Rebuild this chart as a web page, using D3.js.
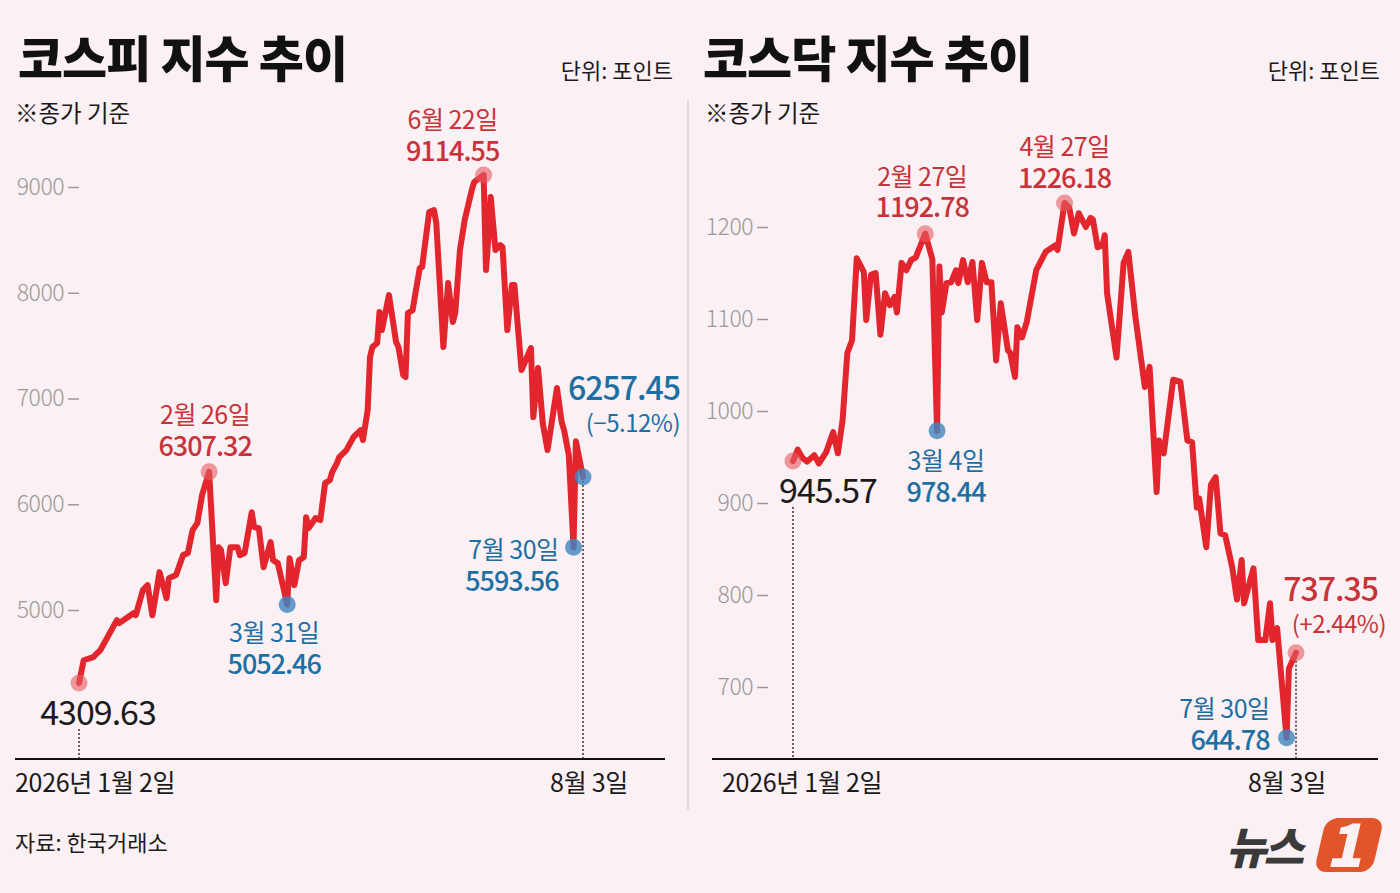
<!DOCTYPE html>
<html>
<head>
<meta charset="utf-8">
<script src="https://cdn.jsdelivr.net/npm/d3@7"></script>
<style>
  body { margin: 0; background: #fbf0f3; }
  svg { display: block; font-family: "Noto Sans CJK KR", "Noto Sans", sans-serif; }
</style>
</head>
<body>
<script>
const width = 1400;
const height = 893;

// 코스피 종가 (2026)
const kospiDates = [
  "01-02", "01-04", "01-08", "01-11", "01-18", "01-19", "01-25", "01-26", "01-29", "01-31",
  "02-02", "02-04", "02-05", "02-08", "02-09", "02-12", "02-15", "02-17", "02-19", "02-21",
  "02-23", "02-26", "03-01", "03-02", "03-03", "03-05", "03-07", "03-10", "03-11", "03-13",
  "03-16", "03-17", "03-19", "03-21", "03-24", "03-25", "03-27", "03-31", "04-01", "04-03",
  "04-05", "04-07", "04-08", "04-09", "04-12", "04-14", "04-16", "04-18", "04-19", "04-21",
  "04-22", "04-25", "04-28", "05-01", "05-02", "05-04", "05-05", "05-06", "05-08", "05-09",
  "05-10", "05-13", "05-16", "05-17", "05-19", "05-20", "05-21", "05-23", "05-26", "05-27",
  "05-30", "06-01", "06-02", "06-05", "06-07", "06-09", "06-10", "06-12", "06-14", "06-17",
  "06-18", "06-22", "06-23", "06-24", "06-25", "06-27", "06-29", "06-30", "07-02", "07-04",
  "07-05", "07-08", "07-12", "07-13", "07-15", "07-17", "07-19", "07-23", "07-25", "07-26",
  "07-28", "07-30", "07-31", "08-03"
];
const kospiValues = [
  4309.63, 4525, 4554, 4620, 4904, 4876, 4970, 4951, 5188, 5235,
  4951, 5216, 5358, 5112, 5301, 5330, 5519, 5538, 5755, 5821,
  6086, 6307.32, 5093, 5594, 5566, 5254, 5594, 5594, 5519, 5538,
  5925, 5784, 5774, 5405, 5642, 5471, 5443, 5052.46, 5490, 5235,
  5471, 5500, 5878, 5774, 5869, 5850, 6200, 6228, 6304, 6389,
  6446, 6512, 6635, 6701, 6607, 6890, 7392, 7486, 7524, 7818,
  7647, 7978, 7534, 7486, 7222, 7203, 7808, 7836, 8234, 8243,
  8764, 8782, 8659, 7486, 8092, 7723, 7808, 8404, 8688, 8972,
  9047, 9114.55, 8215, 8518, 8905, 8404, 8451, 8432, 7647, 8073,
  8073, 7269, 7477, 6824, 7288, 6767, 6512, 7099, 6777, 6701,
  6465, 5593.56, 6595, 6257.45
];
const kospiTicks = [5000, 6000, 7000, 8000, 9000];
const kospiMarks = [
  { date: "01-02", tone: "start", label: "" },
  { date: "02-26", tone: "high", label: "2월 26일" },
  { date: "03-31", tone: "low", label: "3월 31일" },
  { date: "06-22", tone: "high", label: "6월 22일" },
  { date: "07-30", tone: "low", label: "7월 30일" },
  { date: "08-03", tone: "low", label: "", change: "(−5.12%)" }
];

// 코스닥 종가 (2026)
const kosdaqDates = [
  "01-02", "01-04", "01-06", "01-08", "01-11", "01-13", "01-16", "01-19", "01-21", "01-23",
  "01-25", "01-27", "01-29", "02-01", "02-02", "02-04", "02-06", "02-08", "02-10", "02-12",
  "02-14", "02-15", "02-17", "02-19", "02-21", "02-23", "02-25", "02-27", "03-02", "03-04",
  "03-05", "03-06", "03-08", "03-10", "03-12", "03-13", "03-15", "03-17", "03-19", "03-21",
  "03-23", "03-25", "03-27", "03-29", "03-31", "04-03", "04-04", "04-06", "04-07", "04-09",
  "04-11", "04-15", "04-19", "04-23", "04-24", "04-27", "04-29", "05-01", "05-03", "05-06",
  "05-08", "05-09", "05-11", "05-13", "05-14", "05-15", "05-19", "05-22", "05-24", "05-27",
  "05-31", "06-02", "06-05", "06-06", "06-08", "06-12", "06-15", "06-18", "06-20", "06-22",
  "06-23", "06-26", "06-28", "06-30", "07-02", "07-04", "07-07", "07-09", "07-11", "07-12",
  "07-16", "07-18", "07-21", "07-23", "07-24", "07-26", "07-30", "07-31", "08-03"
];
const kosdaqValues = [
  945.57, 958, 949, 945, 952, 943, 955, 977, 954, 990,
  1063, 1077, 1166, 1151, 1099, 1148, 1150, 1083, 1128, 1115,
  1124, 1107, 1161, 1153, 1164, 1167, 1180, 1192.78, 1165, 978.44,
  1157, 1107, 1139, 1140, 1153, 1139, 1164, 1140, 1162, 1099,
  1161, 1140, 1140, 1055, 1117, 1066, 1063, 1037, 1091, 1080,
  1097, 1153, 1173, 1180, 1175, 1226.18, 1221, 1193, 1215, 1200,
  1210, 1208, 1178, 1180, 1191, 1128, 1058, 1161, 1173, 1102,
  1026, 1048, 912, 968, 954, 1034, 1032, 968, 966, 895,
  905, 852, 920, 928, 867, 865, 830, 795, 838, 791,
  829, 751, 751, 791, 751, 764, 644.78, 720, 737.35
];
const kosdaqTicks = [700, 800, 900, 1000, 1100, 1200];
const kosdaqMarks = [
  { date: "01-02", tone: "start", label: "" },
  { date: "02-27", tone: "high", label: "2월 27일" },
  { date: "03-04", tone: "low", label: "3월 4일" },
  { date: "04-27", tone: "high", label: "4월 27일" },
  { date: "07-30", tone: "low", label: "7월 30일" },
  { date: "08-03", tone: "high", label: "", change: "(+2.44%)" }
];

const parse = (d) => d3.timeParse("%Y-%m-%d")("2026-" + d);
const fmt = d3.format(".2f");

const RED = "#e3262d";
const textColor = { high: "#c8333a", low: "#1c6fa3", start: "#1a1a1a" };
const dotColor = { high: "#e55c63", low: "#3f86c0", start: "#e55c63" };

const svg = d3
  .select("body")
  .append("svg")
  .attr("width", width)
  .attr("height", height);

svg.append("rect").attr("width", width).attr("height", height).attr("fill", "#fbf0f3");

// 가운데 구분선
svg
  .append("line")
  .attr("x1", 688)
  .attr("x2", 688)
  .attr("y1", 100)
  .attr("y2", 810)
  .attr("stroke", "#e2d8db")
  .attr("stroke-width", 2);

function drawPanel(cfg) {
  const g = svg.append("g");
  const data = cfg.dates.map((d, i) => ({ date: parse(d), value: cfg.values[i] }));
  const lookup = new Map(cfg.dates.map((d, i) => [d, cfg.values[i]]));

  const x = d3
    .scaleTime()
    .domain([parse(cfg.dates[0]), parse(cfg.dates[cfg.dates.length - 1])])
    .range(cfg.xRange);
  const y = d3.scaleLinear().domain(cfg.yDomain).range(cfg.yRange);

  // 제목
  g.append("text")
    .attr("x", cfg.titleX)
    .attr("y", 77)
    .attr("font-size", 49)
    .attr("font-weight", 900)
    .attr("fill", "#111")
    .attr("letter-spacing", -1)
    .text(cfg.title);

  g.append("text")
    .attr("x", cfg.unitX)
    .attr("y", 79)
    .attr("text-anchor", "end")
    .attr("font-size", 22)
    .attr("fill", "#1a1a1a")
    .text("단위: 포인트");

  g.append("text")
    .attr("x", cfg.noteX)
    .attr("y", 122)
    .attr("font-size", 23.5)
    .attr("fill", "#1a1a1a")
    .text("※종가 기준");

  // y축
  const yAxis = d3
    .axisLeft(y)
    .tickValues(cfg.ticks)
    .tickSize(11)
    .tickPadding(4)
    .tickFormat(d3.format("d"));

  const ya = g
    .append("g")
    .attr("transform", `translate(${cfg.axisX},0)`)
    .call(yAxis);
  ya.select(".domain").remove();
  ya.selectAll(".tick line").attr("stroke", "#9a9a9a").attr("stroke-width", 1.5);
  ya.selectAll(".tick text")
    .attr("fill", "#9a9a9a")
    .attr("font-size", 23)
    .attr("font-weight", 300)
    .attr("letter-spacing", -0.5)
    .attr("font-family", "'Noto Sans CJK KR', sans-serif");

  // 바닥선
  g.append("line")
    .attr("x1", cfg.left)
    .attr("x2", cfg.right)
    .attr("y1", 759)
    .attr("y2", 759)
    .attr("stroke", "#111")
    .attr("stroke-width", 2);

  // x축 날짜
  const first = data[0];
  const last = data[data.length - 1];
  g.append("text")
    .attr("x", cfg.dateX)
    .attr("y", 792)
    .attr("font-size", 25)
    .attr("fill", "#1a1a1a")
    .attr("letter-spacing", -0.3)
    .text("2026년 1월 2일");
  g.append("text")
    .attr("x", x(last.date) + cfg.endShift)
    .attr("y", 792)
    .attr("text-anchor", "middle")
    .attr("font-size", 25)
    .attr("fill", "#1a1a1a")
    .attr("letter-spacing", -0.3)
    .text("8월 3일");

  // 점선
  const dotted = [
    [x(first.date), cfg.startLineTop],
    [x(last.date), y(last.value)],
  ];
  g.selectAll(".guide")
    .data(dotted)
    .enter()
    .append("line")
    .attr("x1", (d) => d[0])
    .attr("x2", (d) => d[0])
    .attr("y1", (d) => d[1])
    .attr("y2", 759)
    .attr("stroke", "#333")
    .attr("stroke-width", 1.5)
    .attr("stroke-dasharray", "2,2");

  // 지수 선
  const line = d3
    .line()
    .x((d) => x(d.date))
    .y((d) => y(d.value));

  g.append("path")
    .datum(data)
    .attr("d", line)
    .attr("fill", "none")
    .attr("stroke", RED)
    .attr("stroke-width", 6)
    .attr("stroke-linejoin", "round")
    .attr("stroke-linecap", "round");

  // 표시점
  const marks = cfg.marks.map((m) => ({
    ...m,
    value: lookup.get(m.date),
    px: x(parse(m.date)),
    py: y(lookup.get(m.date)),
  }));

  g.selectAll(".dot")
    .data(marks)
    .enter()
    .append("circle")
    .attr("cx", (d) => d.px)
    .attr("cy", (d) => d.py)
    .attr("r", 8.5)
    .attr("fill", (d) => dotColor[d.tone])
    .attr("opacity", (d) => (d.tone === "low" ? 0.8 : 0.6));

  // 라벨
  marks.forEach((m) => {
    const p = cfg.place[m.date];
    const t = g
      .append("text")
      .attr("text-anchor", p.anchor)
      .attr("fill", textColor[m.tone])
      .attr("letter-spacing", -1);

    if (m.tone === "start") {
      t.append("tspan")
        .attr("x", m.px + p.dx)
        .attr("y", m.py + p.dy[0])
        .attr("font-size", 34)
        .text(fmt(m.value));
    } else if (m.change) {
      t.append("tspan")
        .attr("x", m.px + p.dx)
        .attr("y", m.py + p.dy[0])
        .attr("font-size", 32)
        .attr("font-weight", 500)
        .text(fmt(m.value));
      t.append("tspan")
        .attr("x", m.px + p.dx + p.dx2)
        .attr("y", m.py + p.dy[1])
        .attr("font-size", 24)
        .attr("letter-spacing", -0.5)
        .text(m.change);
    } else {
      t.append("tspan")
        .attr("x", m.px + p.dx)
        .attr("y", m.py + p.dy[0])
        .attr("font-size", 25)
        .attr("letter-spacing", -0.5)
        .text(m.label);
      t.append("tspan")
        .attr("x", m.px + p.dx)
        .attr("y", m.py + p.dy[1])
        .attr("font-size", 27)
        .attr("font-weight", 500)
        .text(fmt(m.value));
    }
  });
}

drawPanel({
  title: "코스피 지수 추이",
  dates: kospiDates,
  values: kospiValues,
  ticks: kospiTicks,
  marks: kospiMarks,
  left: 15,
  right: 665,
  titleX: 18,
  unitX: 673,
  noteX: 15,
  dateX: 15,
  endShift: 6,
  axisX: 79,
  xRange: [79, 583],
  yDomain: [5000, 9000],
  yRange: [610, 187],
  startLineTop: 729,
  place: {
    "01-02": { dx: 19, dy: [42], anchor: "middle" },
    "02-26": { dx: -4, dy: [-48, -16], anchor: "middle" },
    "03-31": { dx: -13, dy: [38, 70], anchor: "middle" },
    "06-22": { dx: -31, dy: [-46, -14], anchor: "middle" },
    "07-30": { dx: -15, dy: [12, 44], anchor: "end" },
    "08-03": { dx: 97, dx2: 0, dy: [-77, -45], anchor: "end" },
  },
});

drawPanel({
  title: "코스닥 지수 추이",
  dates: kosdaqDates,
  values: kosdaqValues,
  ticks: kosdaqTicks,
  marks: kosdaqMarks,
  left: 712,
  right: 1378,
  titleX: 703,
  unitX: 1380,
  noteX: 705,
  dateX: 722,
  endShift: -9,
  axisX: 768,
  xRange: [793, 1296],
  yDomain: [700, 1200],
  yRange: [687, 227],
  startLineTop: 507,
  place: {
    "01-02": { dx: 35, dy: [42], anchor: "middle" },
    "02-27": { dx: -3, dy: [-48, -17], anchor: "middle" },
    "03-04": { dx: 9, dy: [39, 71], anchor: "middle" },
    "04-27": { dx: 0, dy: [-47, -15], anchor: "middle" },
    "07-30": { dx: -17, dy: [-20, 12], anchor: "end" },
    "08-03": { dx: 82, dx2: 8, dy: [-52, -20], anchor: "end" },
  },
});

// 출처
svg
  .append("text")
  .attr("x", 15)
  .attr("y", 851)
  .attr("font-size", 22)
  .attr("fill", "#1a1a1a")
  .text("자료: 한국거래소");

// 뉴스1 로고
const logo = svg.append("g");
logo
  .append("text")
  .attr("x", 1226)
  .attr("y", 864)
  .attr("font-size", 44)
  .attr("font-weight", 900)
  .attr("font-style", "italic")
  .attr("letter-spacing", -3)
  .attr("fill", "#3a3a3a")
  .text("뉴스");
const badge = logo.append("g").attr("transform", "translate(1349,845) skewX(-13)");
badge
  .append("rect")
  .attr("x", -29)
  .attr("y", -27)
  .attr("width", 58)
  .attr("height", 54)
  .attr("rx", 12)
  .attr("fill", "#e2552b");
badge
  .append("text")
  .attr("x", 0)
  .attr("y", 22)
  .attr("text-anchor", "middle")
  .attr("font-size", 60)
  .attr("font-weight", 900)
  .attr("fill", "#fbf0f3")
  .text("1");
</script>
</body>
</html>
